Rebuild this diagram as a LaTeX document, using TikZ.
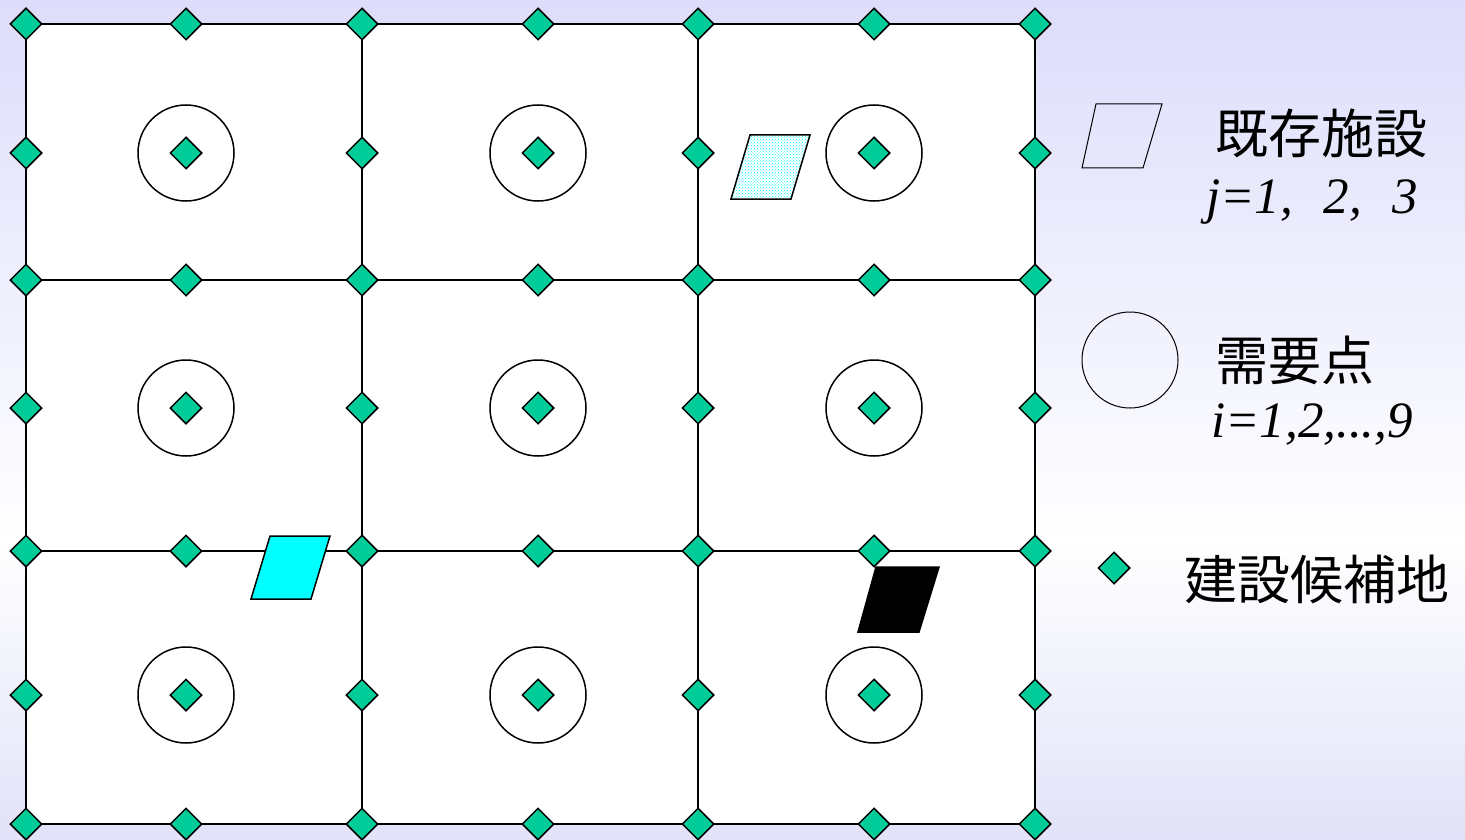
\documentclass[tikz,border=0pt]{standalone}
\usepackage{fontspec}
\newfontfamily\cjk{Noto Sans CJK JP}
\newfontfamily\timesit{Liberation Serif}[ItalicFont={Liberation Serif Italic}]
\usetikzlibrary{shapes.geometric,patterns}
\definecolor{bglav}{RGB}{221,221,251}
\definecolor{bglavb}{RGB}{226,226,249}
\definecolor{site}{RGB}{0,204,153}
\definecolor{puecyan}{RGB}{0,255,255}
\begin{document}
\begin{tikzpicture}[x=1pt,y=-1pt,
  cand/.style={diamond,draw=black,line width=1.5pt,fill=site,minimum width=32pt,minimum height=32pt,inner sep=0pt},
  demand/.style={circle,draw=black,line width=1.5pt,minimum size=96pt,inner sep=0pt},
  cell/.style={draw=black,line width=1.8pt,fill=white},
  facil/.style={draw=black,line width=1.5pt},
  cjklabel/.style={font=\cjk\fontsize{53}{53}\selectfont,inner sep=0pt,anchor=west},
  mathlabel/.style={font=\timesit\itshape\fontsize{51}{51}\selectfont,inner sep=0pt,anchor=base west}
]
% background
\useasboundingbox (0,0) rectangle (1465,840);
\shade[top color=bglav,bottom color=white] (0,0) rectangle (1465,540);
\shade[top color=white,bottom color=bglavb] (0,539) rectangle (1465,840);

% grid cells
\foreach \xa/\xb in {26/362,362/698,698/1035}{
  \foreach \ya/\yb in {24/280,280/551,551/824}{
    \draw[cell] (\xa,\ya) rectangle (\xb,\yb);
  }
}

% demand circles
\foreach \cx [count=\ci] in {186,538,874}{
  \foreach \cy [count=\cj] in {153,408,695}{
    \node[demand] (dem-\ci-\cj) at (\cx,\cy) {};
  }
}

% existing facilities
\path[fill=white] (750,135) -- (810,135) -- (791,199) -- (731,199) -- cycle;
\path[pattern=crosshatch dots,pattern color=puecyan] (750,135) -- (810,135) -- (791,199) -- (731,199) -- cycle;
\draw[facil] (750,135) -- (810,135) -- (791,199) -- (731,199) -- cycle;
\draw[facil,fill=puecyan] (270,536) -- (330,536) -- (311,599) -- (251,599) -- cycle;
\draw[facil,fill=black] (876,567) -- (939,567) -- (919,632) -- (858,632) -- cycle;

% candidate sites: grid corners and edge midpoints
\foreach \x [count=\i] in {26,186,362,538,698,874,1035}{
  \foreach \y [count=\j] in {24,153,280,408,551,695,824}{
    \pgfmathtruncatemacro{\iodd}{mod(\i,2)}
    \pgfmathtruncatemacro{\jodd}{mod(\j,2)}
    \pgfmathtruncatemacro{\show}{(\iodd==1) || (\jodd==1) ? 1 : 0}
    \ifnum\show=1
      \node[cand] (c-\i-\j) at (\x,\y) {};
    \fi
  }
}
% candidate sites at demand points
\foreach \cx [count=\ci] in {186,538,874}{
  \foreach \cy [count=\cj] in {153,408,695}{
    \node[cand] (cd-\ci-\cj) at (\cx,\cy) {};
  }
}

% legend
\draw[line width=1pt] (1096,104) -- (1162,104) -- (1143,168) -- (1082,168) -- cycle;
\node[cjklabel] (lg-fac) at (1215,133) {既存施設};
\node[mathlabel] (lg-j) at (1206,213) {j=1,\hspace{0.6em}2,\hspace{0.6em}3};

\node[circle,draw=black,line width=1pt,minimum size=96pt,inner sep=0pt] (lg-circ) at (1130,360) {};
\node[cjklabel] (lg-dem) at (1215,360) {需要点};
\node[mathlabel] (lg-i) at (1211,437) {i=1,2,...,9};

\node[cand] (lg-cand) at (1114,568) {};
\node[cjklabel] (lg-site) at (1184,579) {建設候補地};
\end{tikzpicture}
\end{document}
